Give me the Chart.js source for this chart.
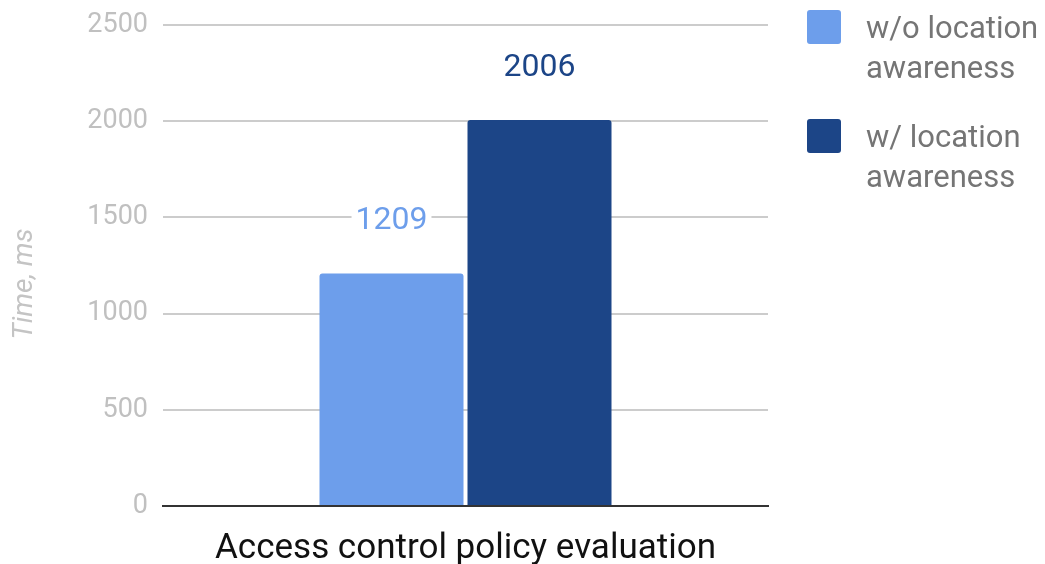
<!DOCTYPE html>
<html lang="en">
<head>
  <meta charset="UTF-8">
  <title>Access control policy evaluation</title>
  <script src="https://cdn.jsdelivr.net/npm/chart.js"></script>
  <style>
    html, body { margin: 0; padding: 0; background: #fff; }
    #wrap { width: 1045px; height: 564px; }
  </style>
</head>
<body>
  <div id="wrap"><canvas id="timeChart" width="1045" height="564"></canvas></div>
  <script>
    // data
    const categories = ['Access control policy evaluation'];
    const seriesNames = [['w/o location', 'awareness'], ['w/ location', 'awareness']];
    const withoutLocation = [1209];
    const withLocation = [2006];
    const yTicks = [0, 500, 1000, 1500, 2000, 2500];
    const seriesColors = ['#6d9eeb', '#1c4587'];

    const ctx = document.getElementById('timeChart').getContext('2d');

    // value labels above bars, with white backing so the grid line breaks
    const valueLabels = {
      id: 'valueLabels',
      afterDatasetsDraw(chart) {
        const c = chart.ctx;
        c.save();
        c.font = '32px Roboto';
        c.textAlign = 'center';
        c.textBaseline = 'middle';
        chart.data.datasets.forEach((ds, i) => {
          chart.getDatasetMeta(i).data.forEach((bar, j) => {
            const txt = String(ds.data[j]);
            const w = c.measureText(txt).width;
            const y = bar.y - 52;
            c.fillStyle = '#ffffff';
            c.fillRect(bar.x - w / 2 - 4, y - 14, w + 8, 28);
            c.fillStyle = ds.backgroundColor;
            c.fillText(txt, bar.x, y);
          });
        });
        c.restore();
      }
    };

    // y title + two-line legend on the right
    const extras = {
      id: 'extras',
      afterDraw(chart) {
        const c = chart.ctx;
        c.save();
        c.translate(25, 284);
        c.rotate(-Math.PI / 2);
        c.font = 'italic 28px Roboto';
        c.fillStyle = '#c4c4c4';
        c.textAlign = 'center';
        c.textBaseline = 'middle';
        c.fillText('Time, ms', 0, 0);
        c.restore();

        c.save();
        chart.data.datasets.forEach((ds, i) => {
          const top = 10 + i * 109;
          c.fillStyle = ds.backgroundColor;
          c.beginPath();
          c.roundRect(807, top, 34, 34, 3);
          c.fill();
          c.font = '31px Roboto';
          c.fillStyle = '#757575';
          c.textAlign = 'left';
          c.textBaseline = 'middle';
          seriesNames[i].forEach((line, k) => {
            c.fillText(line, 866, top + 20 + k * 40);
          });
        });
        c.restore();
      }
    };

    new Chart(ctx, {
      type: 'bar',
      data: {
        labels: categories,
        datasets: [
          { label: seriesNames[0].join(' '), data: withoutLocation, backgroundColor: seriesColors[0] },
          { label: seriesNames[1].join(' '), data: withLocation, backgroundColor: seriesColors[1] }
        ]
      },
      options: {
        responsive: false,
        animation: false,
        devicePixelRatio: 1,
        layout: { padding: { top: 25, right: 277, bottom: 0, left: 0 } },
        datasets: {
          bar: {
            categoryPercentage: 296 / 605,
            barPercentage: 144 / 148,
            borderRadius: { topLeft: 3, topRight: 3 },
            borderSkipped: 'start'
          }
        },
        plugins: {
          legend: { display: false },
          tooltip: { enabled: false }
        },
        scales: {
          x: {
            grid: { display: false },
            border: { display: true, color: '#333333', width: 2, z: 1 },
            ticks: { color: '#111111', font: { family: 'Roboto', size: 35 }, padding: 14 },
            afterFit(scale) { scale.height = 58; }
          },
          y: {
            min: 0,
            max: 2500,
            afterBuildTicks(scale) { scale.ticks = yTicks.map(v => ({ value: v })); },
            grid: { color: '#cccccc', lineWidth: 2, drawTicks: false },
            border: { display: false },
            ticks: {
              color: '#c0c0c0',
              font: { family: 'Roboto', size: 27 },
              padding: 15,
              callback: v => String(v)
            },
            afterFit(scale) {
              scale.width = 163;
              scale.paddingTop = 0;
              scale.paddingBottom = 0;
            }
          }
        }
      },
      plugins: [valueLabels, extras]
    });
  </script>
</body>
</html>
